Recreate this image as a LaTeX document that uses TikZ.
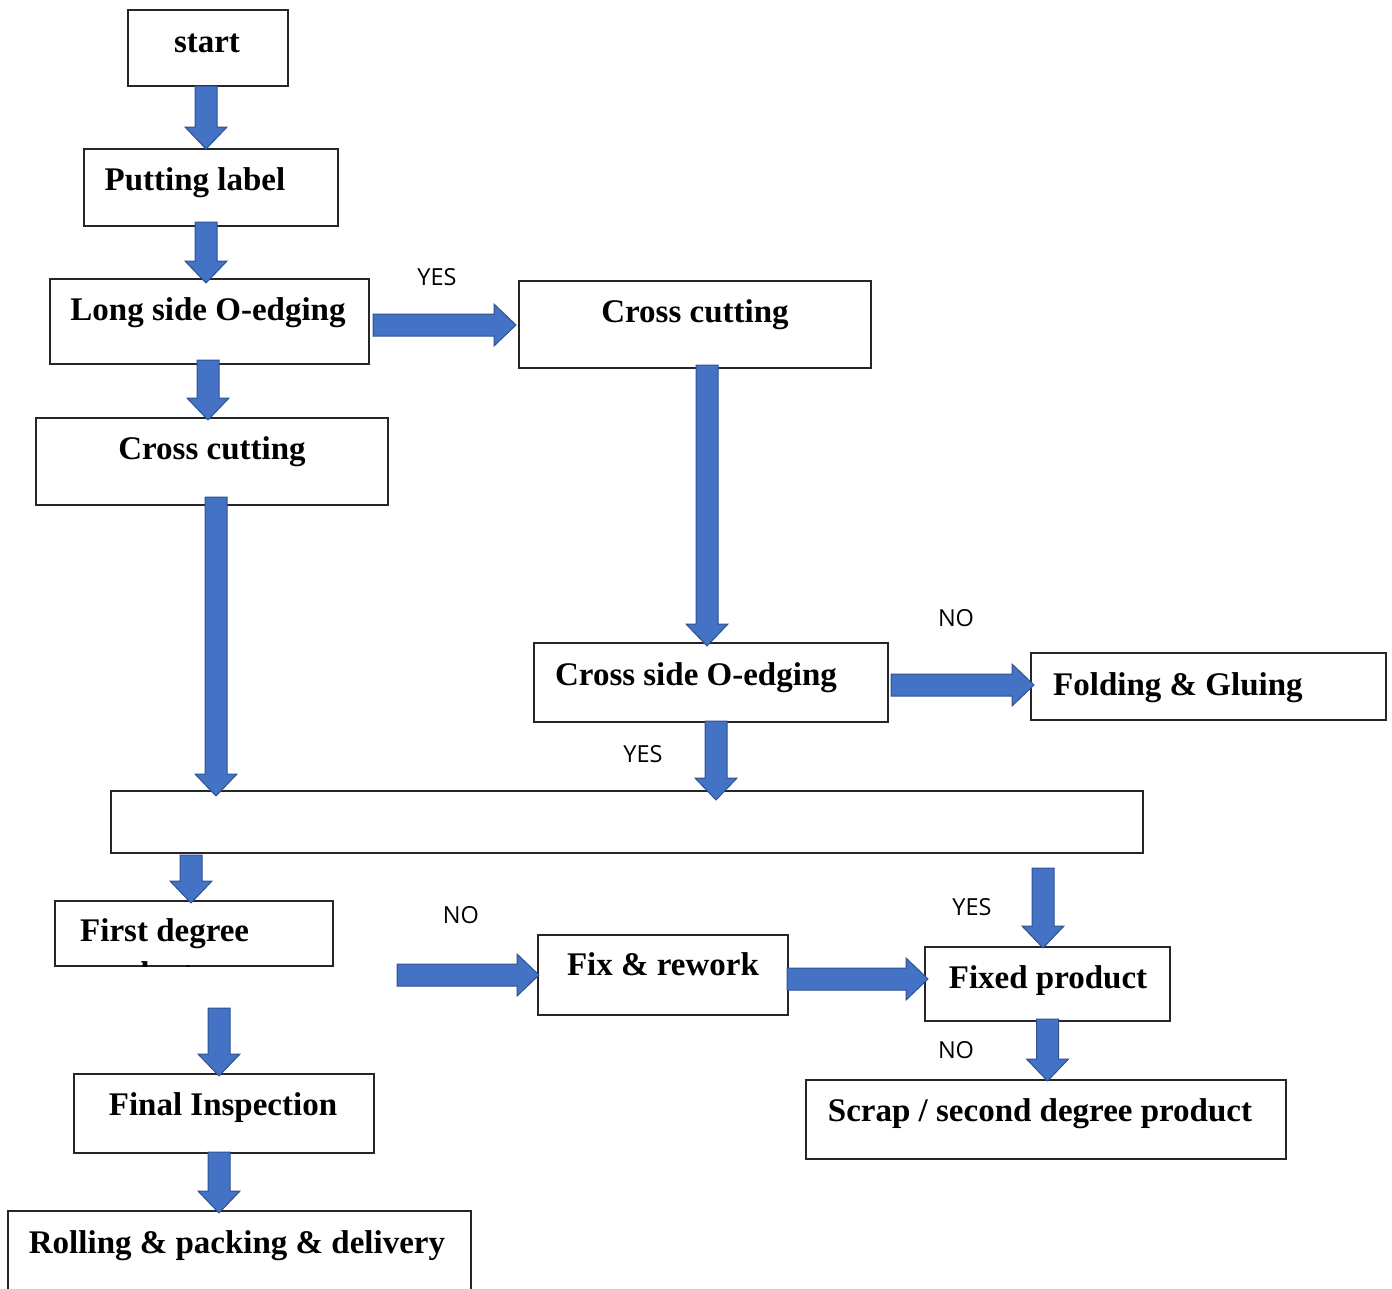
\documentclass[tikz,border=0pt]{standalone}
\usepackage{fontspec}
\setmainfont{Liberation Serif}
\newfontfamily\labfont{Open Sans}
\usetikzlibrary{calc}
\definecolor{arrfill}{HTML}{4472C4}
\definecolor{arrline}{HTML}{2F528F}
\tikzset{
  procbox/.style={draw=black!85, line width=1.3pt, fill=white, rectangle, anchor=north west, inner sep=0pt, outer sep=0pt},
  boxtext/.style={font=\fontsize{33}{38}\selectfont\bfseries, inner sep=0pt, anchor=base},
  yn/.style={font=\fontsize{23.5}{28}\selectfont\labfont, inner sep=0pt, anchor=base},
  blk/.style={fill=arrfill, draw=arrline, line width=1pt, line join=miter}
}
\newcommand\darrow[2]{\path[blk] let \p1=#1, \p2=#2 in
  ({\x1-11pt},{\y1}) -- ({\x1+11pt},{\y1}) -- ({\x1+11pt},{\y2+22pt}) -- ({\x1+21pt},{\y2+22pt}) --
  ({\x1},{\y2}) -- ({\x1-21pt},{\y2+22pt}) -- ({\x1-11pt},{\y2+22pt}) -- cycle;}
\newcommand\rarrow[2]{\path[blk] let \p1=#1, \p2=#2 in
  ({\x1},{\y1+11pt}) -- ({\x2-22pt},{\y1+11pt}) -- ({\x2-22pt},{\y1+21pt}) -- ({\x2},{\y1}) --
  ({\x2-22pt},{\y1-21pt}) -- ({\x2-22pt},{\y1-11pt}) -- ({\x1},{\y1-11pt}) -- cycle;}
\begin{document}
\begin{tikzpicture}[x=1pt,y=-1pt]
\useasboundingbox (0,0) rectangle (1392,1288);
% boxes
\node[procbox, minimum width=160pt, minimum height=76pt] (start) at (128,10) {};
\node[procbox, minimum width=254pt, minimum height=77pt] (put) at (84,149) {};
\node[procbox, minimum width=319pt, minimum height=85pt] (long) at (50,279) {};
\node[procbox, minimum width=352pt, minimum height=87pt] (ccl) at (36,418) {};
\node[procbox, minimum width=352pt, minimum height=87pt] (ccr) at (519,281) {};
\node[procbox, minimum width=354pt, minimum height=79pt] (cso) at (534,643) {};
\node[procbox, minimum width=355pt, minimum height=67pt] (fold) at (1031,653) {};
\node[procbox, minimum width=1032pt, minimum height=62pt] (big) at (111,791) {};
\node[procbox, minimum width=278pt, minimum height=65pt] (first) at (55,901) {};
\node[procbox, minimum width=250pt, minimum height=80pt] (fix) at (538,935) {};
\node[procbox, minimum width=245pt, minimum height=74pt] (fixed) at (925,947) {};
\node[procbox, minimum width=480pt, minimum height=79pt] (scrap) at (806,1080) {};
\node[procbox, minimum width=300pt, minimum height=79pt] (final) at (74,1074) {};
\node[procbox, minimum width=463pt, minimum height=110pt] (roll) at (8,1211) {};
% texts
\node[boxtext] (start-t) at (207,52) {start};
\node[boxtext] (put-t) at (195,190) {Putting label};
\node[boxtext] (long-t) at (208,320) {Long side O-edging};
\node[boxtext] (ccl-t) at (212,459) {Cross cutting};
\node[boxtext] (ccr-t) at (695,322) {Cross cutting};
\node[boxtext] (cso-t) at (696,685) {Cross side O-edging};
\node[boxtext, anchor=base west] (fold-t) at (1053,695) {Folding \& Gluing};
\node[boxtext, anchor=base west] (first-t) at (80,941) {First degree};
\begin{scope}
  \clip (first.north west) rectangle (first.south east);
  \node[boxtext, anchor=base west] (first-t2) at (82,984) {product};
\end{scope}
\node[boxtext] (fix-t) at (663,975) {Fix \& rework};
\node[boxtext] (fixed-t) at (1048,988) {Fixed product};
\node[boxtext] (scrap-t) at (1040,1121) {Scrap / second degree product};
\node[boxtext] (final-t) at (223,1115) {Final Inspection};
\node[boxtext] (roll-t) at (237,1253) {Rolling \& packing \& delivery};
% labels
\node[yn] (y1) at (437,285) {YES};
\node[yn] (y2) at (643,762) {YES};
\node[yn] (n1) at (956,626) {NO};
\node[yn] (n2) at (461,923) {NO};
\node[yn] (y3) at (972,915) {YES};
\node[yn] (n3) at (956,1058) {NO};
% block arrows
\darrow{($(start.south)+(-2,0)$)}{($(put.north)+(-5,0)$)}
\darrow{($(put.south)+(-5,-4)$)}{($(long.north)+(-3.5,4)$)}
\darrow{($(long.south)+(-1.5,-4)$)}{($(ccl.north)+(-4,2)$)}
\darrow{($(ccl.south)+(4,-8)$)}{($(big.north)+(0,5)$)}
\rarrow{($(long.east)+(4,3.5)$)}{($(ccr.west)+(-3,0)$)}
\darrow{($(ccr.south)+(12,-3)$)}{($(cso.north)+(0,3)$)}
\rarrow{($(cso.east)+(3,2.5)$)}{($(fold.west)+(3,0)$)}
\darrow{($(cso.south)+(5,-1)$)}{($(big.north)+(0,9)$)}
\darrow{($(big.south west)+(80,2)$)}{($(first.north)+(0,2)$)}
\darrow{($(big.south east)+(-100,15)$)}{($(fixed.north)+(0,1)$)}
\rarrow{($(first.east)+(64,41.5)$)}{($(fix.west)+(1,0)$)}
\rarrow{($(fix.east)+(-1,4)$)}{($(fixed.west)+(3,0)$)}
\darrow{($(fixed.south)+(0,-2)$)}{($(scrap.north)+(0,1)$)}
\darrow{($(first.south)+(25,42)$)}{($(final.north)+(0,2)$)}
\darrow{($(final.south)+(-5,-1)$)}{($(roll.north)+(0,2)$)}
\end{tikzpicture}
\end{document}
